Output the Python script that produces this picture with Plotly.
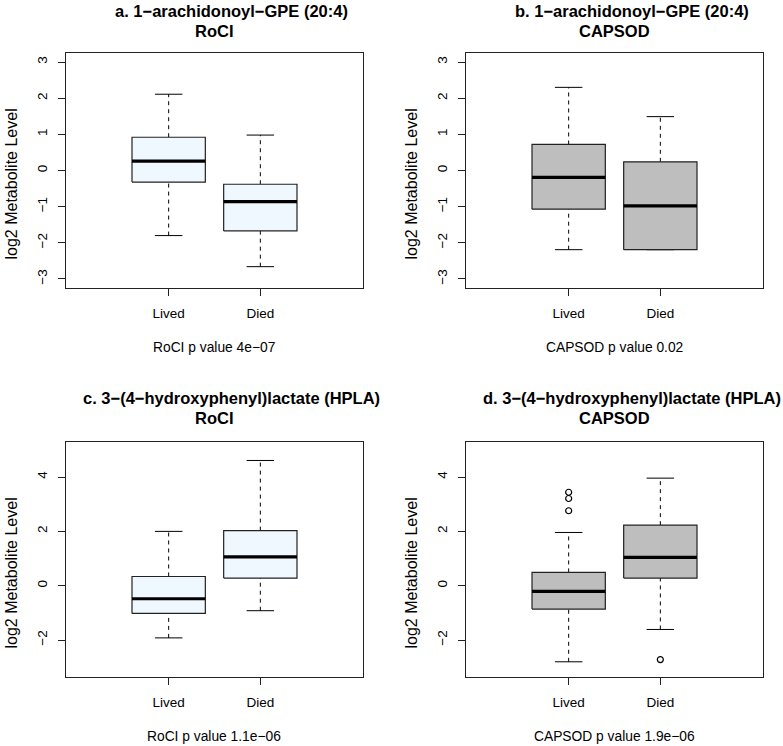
import plotly.graph_objects as go

W, H = 783, 746

groups = ["Lived", "Died"]
group_pos = [1, 2]

# a. 1-arachidonoyl-GPE (20:4), RoCI
a_lo = [-1.80, -2.66]
a_q1 = [-0.32, -1.67]
a_med = [0.26, -0.86]
a_q3 = [0.92, -0.38]
a_hi = [2.11, 0.98]
a_out = [[], []]

# b. 1-arachidonoyl-GPE (20:4), CAPSOD
b_lo = [-2.19, -2.19]
b_q1 = [-1.07, -2.19]
b_med = [-0.19, -0.98]
b_q3 = [0.72, 0.24]
b_hi = [2.30, 1.49]
b_out = [[], []]

# c. 3-(4-hydroxyphenyl)lactate (HPLA), RoCI
c_lo = [-1.92, -0.92]
c_q1 = [-1.02, 0.28]
c_med = [-0.48, 1.06]
c_q3 = [0.34, 2.03]
c_hi = [2.00, 4.61]
c_out = [[], []]

# d. 3-(4-hydroxyphenyl)lactate (HPLA), CAPSOD
d_lo = [-2.80, -1.61]
d_q1 = [-0.86, 0.28]
d_med = [-0.21, 1.04]
d_q3 = [0.49, 2.23]
d_hi = [1.96, 3.96]
d_out = [[3.44, 3.21, 2.76], [-2.72]]

titles_line1 = ["a. 1\u2212arachidonoyl\u2212GPE (20:4)", "b. 1\u2212arachidonoyl\u2212GPE (20:4)",
                "c. 3\u2212(4\u2212hydroxyphenyl)lactate (HPLA)", "d. 3\u2212(4\u2212hydroxyphenyl)lactate (HPLA)"]
titles_line2 = ["RoCI", "CAPSOD", "RoCI", "CAPSOD"]
subtitles = ["RoCI p value 4e\u221207", "CAPSOD p value 0.02",
             "RoCI p value 1.1e\u221206", "CAPSOD p value 1.9e\u221206"]
fills = ["#F0F8FF", "#BEBEBE", "#F0F8FF", "#BEBEBE"]
ylabel = "log2 Metabolite Level"
ticks_top = [-3, -2, -1, 0, 1, 2, 3]
ticks_bottom = [-2, 0, 2, 4]
yrange_top = [-3.25, 3.25]
yrange_bottom = [-3.36, 5.29]

panels = [
    (a_lo, a_q1, a_med, a_q3, a_hi, a_out),
    (b_lo, b_q1, b_med, b_q3, b_hi, b_out),
    (c_lo, c_q1, c_med, c_q3, c_hi, c_out),
    (d_lo, d_q1, d_med, d_q3, d_hi, d_out),
]

# page-pixel layout of plot frames: (left, right, top, bottom)
frames = [(66, 363, 53, 288), (466, 763, 53, 288), (66, 363, 442, 677), (466, 763, 442, 677)]

FONT = "Liberation Sans, Arial, Helvetica, sans-serif"
BW = 0.4
CAP = 0.15

fig = go.Figure()

def px2x(px):
    return px / W

def px2y(py):
    return 1 - py / H

for i, (lo, q1, med, q3, hi, outs) in enumerate(panels):
    sfx = "" if i == 0 else str(i + 1)
    xa, ya = "x" + sfx, "y" + sfx
    for p, l, a, m, b, h, o in zip(group_pos, lo, q1, med, q3, hi, outs):
        # whiskers (dashed)
        for y0, y1 in ((b, h), (l, a)):
            if abs(y1 - y0) > 1e-9:
                fig.add_trace(go.Scatter(x=[p, p], y=[y0, y1], mode="lines",
                                         line=dict(color="black", width=1, dash="4px,4px"),
                                         xaxis=xa, yaxis=ya, showlegend=False, hoverinfo="skip"))
        # caps
        for yy in (l, h):
            fig.add_trace(go.Scatter(x=[p - CAP, p + CAP], y=[yy, yy], mode="lines",
                                     line=dict(color="black", width=1),
                                     xaxis=xa, yaxis=ya, showlegend=False, hoverinfo="skip"))
        # box
        fig.add_trace(go.Scatter(x=[p - BW, p + BW, p + BW, p - BW, p - BW],
                                 y=[a, a, b, b, a], mode="lines", fill="toself",
                                 fillcolor=fills[i], line=dict(color="#222222", width=1.2),
                                 xaxis=xa, yaxis=ya, showlegend=False, hoverinfo="skip"))
        # median
        fig.add_trace(go.Scatter(x=[p - BW, p + BW], y=[m, m], mode="lines",
                                 line=dict(color="black", width=3.2),
                                 xaxis=xa, yaxis=ya, showlegend=False, hoverinfo="skip"))
        # outliers
        if o:
            fig.add_trace(go.Scatter(x=[p] * len(o), y=o, mode="markers",
                                     marker=dict(symbol="circle-open", size=6, color="black",
                                                 line=dict(width=1.2)),
                                     xaxis=xa, yaxis=ya, showlegend=False, hoverinfo="skip"))

axis_common = dict(showline=True, mirror=True, linecolor="#222222", linewidth=1.2,
                   ticks="outside", ticklen=7, tickcolor="#222222", tickwidth=1,
                   showgrid=False, zeroline=False, fixedrange=True,
                   tickfont=dict(family=FONT, size=13.5, color="black"))

annotations = []
for i, (l, r, t, b) in enumerate(frames):
    sfx = "" if i == 0 else str(i + 1)
    xkey = "xaxis" + sfx
    ykey = "yaxis" + sfx
    top = i < 2
    fig.layout[xkey] = dict(domain=[px2x(l), px2x(r)], range=[-0.12, 3.12],
                            tickmode="array", tickvals=group_pos, ticktext=groups,
                            anchor="y" + sfx, ticklabelstandoff=6, **axis_common)
    fig.layout[ykey] = dict(domain=[px2y(b), px2y(t)],
                            range=yrange_top if top else yrange_bottom,
                            tickmode="array", tickvals=ticks_top if top else ticks_bottom,
                            tickangle=-90, anchor="x" + sfx, ticklabelstandoff=6, **axis_common)
    cx = (l + r) / 2
    l1y = 11 if top else 397.5
    l2y = 31 if top else 417.5
    annotations.append(dict(text="<b>" + titles_line1[i] + "</b>", x=px2x(cx + 17), y=px2y(l1y),
                            xref="paper", yref="paper", xanchor="center", yanchor="middle",
                            showarrow=False, font=dict(family=FONT, size=16.5, color="black")))
    annotations.append(dict(text="<b>" + titles_line2[i] + "</b>", x=px2x(cx), y=px2y(l2y),
                            xref="paper", yref="paper", xanchor="center", yanchor="middle",
                            showarrow=False, font=dict(family=FONT, size=16.5, color="black")))
    annotations.append(dict(text=subtitles[i], x=px2x(cx), y=px2y(b + 59),
                            xref="paper", yref="paper", xanchor="center", yanchor="middle",
                            showarrow=False, font=dict(family=FONT, size=13.8, color="black")))
    annotations.append(dict(text=ylabel, x=px2x(l - 55), y=px2y((t + b) / 2 + 14), textangle=-90,
                            xref="paper", yref="paper", xanchor="center", yanchor="middle",
                            showarrow=False, font=dict(family=FONT, size=16, color="black")))

fig.update_layout(width=W, height=H, margin=dict(l=0, r=0, t=0, b=0),
                  plot_bgcolor="white", paper_bgcolor="white",
                  showlegend=False, annotations=annotations)

fig.write_html("out.html", config={"displayModeBar": False},
               post_script="document.body.style.margin='0';document.body.style.overflow='hidden';")
